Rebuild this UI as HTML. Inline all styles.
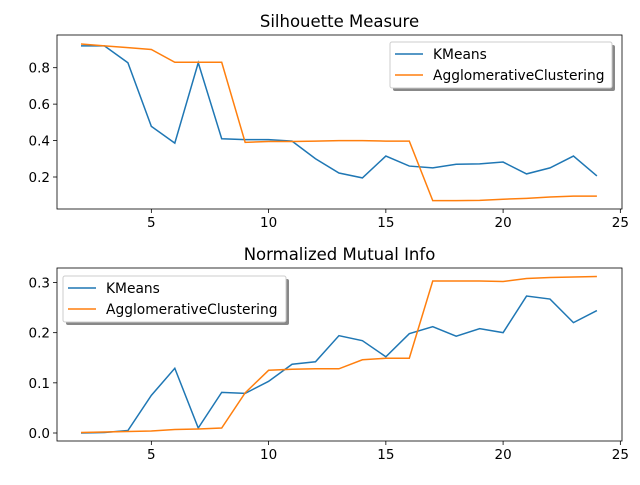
<!DOCTYPE html>
<html><head><meta charset="utf-8"><style>
body{margin:0;background:#fff;font-family:"Liberation Sans","DejaVu Sans",sans-serif}
svg text{font-family:"DejaVu Sans","Liberation Sans",sans-serif}
</style></head><body>
<svg id="c" width="640" height="480" xmlns="http://www.w3.org/2000/svg"></svg>
<script>
const ks = [2,3,4,5,6,7,8,9,10,11,12,13,14,15,16,17,18,19,20,21,22,23,24];
const silKMeans = [0.92,0.92,0.827,0.478,0.386,0.827,0.41,0.405,0.405,0.397,0.30,0.222,0.195,0.315,0.26,0.25,0.27,0.272,0.282,0.217,0.25,0.315,0.206];
const silAgglo = [0.93,0.92,0.91,0.9,0.83,0.83,0.83,0.39,0.395,0.395,0.397,0.4,0.4,0.397,0.397,0.07,0.07,0.072,0.078,0.083,0.09,0.095,0.095];
const nmiKMeans = [0,0.001,0.005,0.075,0.129,0.01,0.081,0.079,0.103,0.137,0.142,0.194,0.184,0.152,0.198,0.212,0.193,0.208,0.2,0.273,0.267,0.22,0.244];
const nmiAgglo = [0.001,0.002,0.003,0.004,0.007,0.008,0.01,0.08,0.125,0.127,0.128,0.128,0.146,0.149,0.149,0.303,0.303,0.303,0.302,0.308,0.31,0.311,0.312];
const xTicks = [5,10,15,20,25];
const silTicks = [0.2,0.4,0.6,0.8];
const nmiTicks = [0.0,0.1,0.2,0.3];
const seriesNames = ["KMeans","AgglomerativeClustering"];
const colors = ["#1f77b4","#ff7f0e"];

const svg = document.getElementById('c');
const NS = "http://www.w3.org/2000/svg";
function mk(tag, attrs, parent){const e=document.createElementNS(NS,tag);for(const k in attrs)e.setAttribute(k,attrs[k]);(parent||svg).appendChild(e);return e;}
const L=57,R=622;
const xs = v => 81 + (v-2)*23.45;

function panel(name, top, bottom, yv0, yp0, yv1, yp1, yticks, fmt, s1, s2, title, legend){
  const g = mk('g',{});
  
  
  const ys = v => yp0 + (v-yv0)*(yp1-yp0)/(yv1-yv0);
  const t = mk('text',{x:(L+R)/2,y:top-8,'text-anchor':'middle','font-size':'16.5',fill:'#000'},g);
  t.textContent = title;
  
  
  xTicks.forEach(v=>{
    const x=xs(v);
    mk('line',{x1:x,x2:x,y1:bottom,y2:bottom+4,stroke:'#000','stroke-width':0.8},g);
    const tx=mk('text',{x:x,y:bottom+18,'text-anchor':'middle','font-size':'13.5'},g);
    tx.textContent=v;
    
    
  });
  yticks.forEach(v=>{
    const y=ys(v);
    mk('line',{x1:L-4,x2:L,y1:y,y2:y,stroke:'#000','stroke-width':0.8},g);
    const tx=mk('text',{x:L-7,y:y+5,'text-anchor':'end','font-size':'13.5'},g);
    tx.textContent=fmt(v);
    
    
  });
  [s1,s2].forEach((s,i)=>{
    const p=mk('polyline',{points:ks.map((k,j)=>xs(k)+','+ys(s[j])).join(' '),fill:'none',stroke:colors[i],'stroke-width':1.5},g);
    
    
  });
  mk('rect',{x:L,y:top,width:R-L,height:bottom-top,fill:'none',stroke:'#000','stroke-width':0.8},g);
  const lg=mk('g',{},g);
  
  
  mk('rect',{x:legend.x+3,y:legend.y+3,width:legend.w,height:46,fill:'#888',rx:2},lg);
  mk('rect',{x:legend.x,y:legend.y,width:legend.w,height:46,fill:'#fff',stroke:'#ccc',rx:2},lg);
  seriesNames.forEach((n,i)=>{
    const yy=legend.y+12+i*21;
    mk('line',{x1:legend.x+5,x2:legend.x+33,y1:yy,y2:yy,stroke:colors[i],'stroke-width':1.5},lg);
    const tx=mk('text',{x:legend.x+43,y:yy+5,'font-size':'13.8'},lg);
    tx.textContent=n;
    
    
  });
}
panel('silhouette-panel',35,209,0.8,67.7,0.2,177,silTicks,v=>v.toFixed(1),silKMeans,silAgglo,'Silhouette Measure',{x:390,y:42,w:222});
panel('nmi-panel',268,441,0.0,433,0.3,282.5,nmiTicks,v=>v.toFixed(1),nmiKMeans,nmiAgglo,'Normalized Mutual Info',{x:63,y:276,w:223});
</script>
</body></html>
